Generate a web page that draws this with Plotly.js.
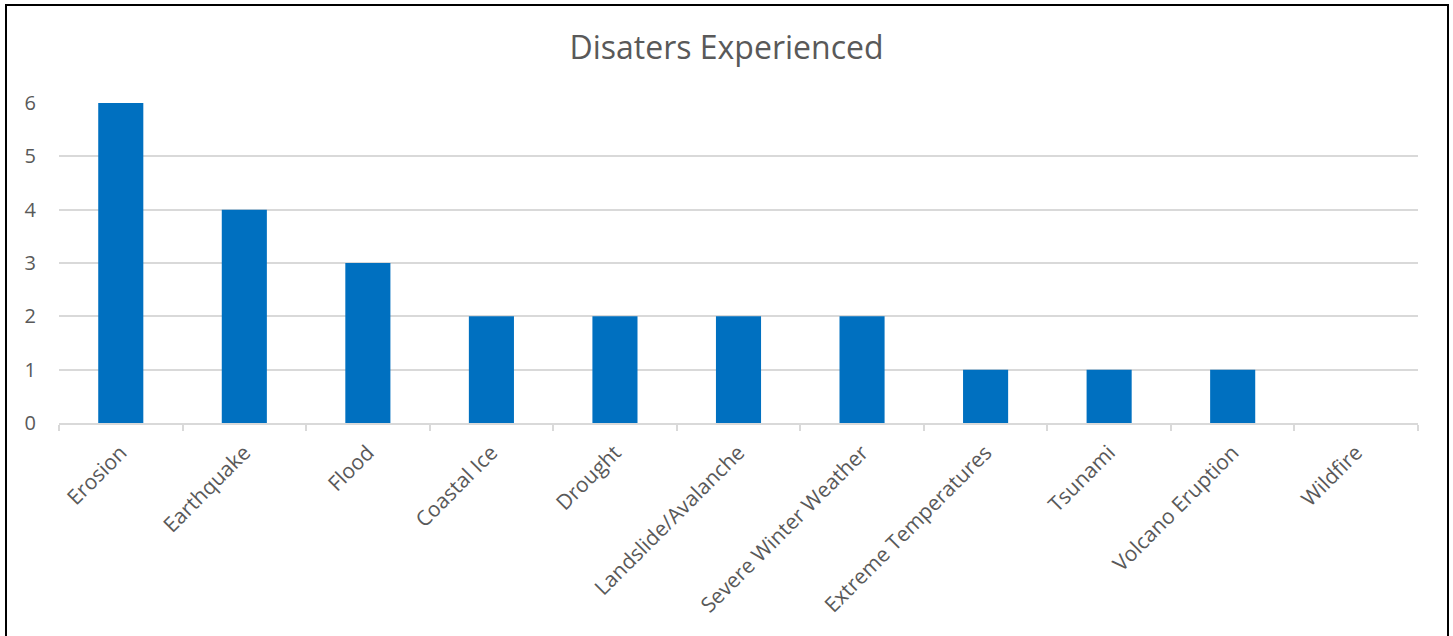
<!DOCTYPE html>
<html>
<head>
<meta charset="utf-8">
<script src="https://cdn.plot.ly/plotly-3.0.1.min.js"></script>
<style>
  html, body { margin: 0; padding: 0; background: #fff; }
  #wrap { position: relative; width: 1453px; height: 636px; overflow: hidden; }
  #chart { position: absolute; left: 0; top: 0; width: 1453px; height: 636px; }
  #frame { position: absolute; left: 5px; top: 4px; width: 1440px; height: 640px;
           border: 2.5px solid #000; pointer-events: none; }
</style>
</head>
<body>
<div id="wrap">
  <div id="chart"></div>
  <div id="frame"></div>
</div>
<script>
// Number of times each disaster type was experienced
const disasters = [
  "Erosion", "Earthquake", "Flood", "Coastal Ice", "Drought",
  "Landslide/Avalanche", "Severe Winter Weather", "Extreme Temperatures",
  "Tsunami", "Volcano Eruption", "Wildfire"
];
const counts = [6, 4, 3, 2, 2, 2, 2, 1, 1, 1, 0];
const yTicks = [0, 1, 2, 3, 4, 5, 6];

const textGrey = "#595959";
const gridGrey = "#d9d9d9";

const trace = {
  type: "bar",
  x: disasters,
  y: counts,
  marker: { color: "#0070C0", line: { width: 0 } },
  hoverinfo: "x+y"
};

const layout = {
  width: 1453,
  height: 636,
  margin: { l: 59, r: 35, t: 103, b: 213, pad: 0 },
  paper_bgcolor: "#ffffff",
  plot_bgcolor: "#ffffff",
  showlegend: false,
  bargap: 0.635,
  font: { family: "Open Sans, sans-serif", color: textGrey },
  title: {
    text: "Disaters Experienced",
    font: { family: "Open Sans, sans-serif", size: 32, color: textGrey },
    x: 0.5, xanchor: "center",
    y: 1 - 48 / 636, yanchor: "middle", yref: "container"
  },
  xaxis: {
    type: "category",
    tickangle: -45,
    tickfont: { size: 21, color: textGrey },
    showgrid: false,
    showline: true,
    linecolor: gridGrey,
    linewidth: 2,
    ticks: "outside",
    tickson: "boundaries",
    ticklen: 6,
    tickcolor: gridGrey,
    tickwidth: 2,
    ticklabelstandoff: 7,
    zeroline: false,
    fixedrange: true
  },
  yaxis: {
    range: [0, 6],
    tickvals: yTicks,
    ticktext: yTicks.map(String),
    tickfont: { size: 20, color: textGrey },
    showgrid: true,
    gridcolor: gridGrey,
    gridwidth: 2,
    zeroline: false,
    showline: false,
    ticks: "",
    ticklabelstandoff: 22,
    fixedrange: true
  }
};

Plotly.newPlot("chart", [trace], layout, { displayModeBar: false, staticPlot: true });
</script>
</body>
</html>
